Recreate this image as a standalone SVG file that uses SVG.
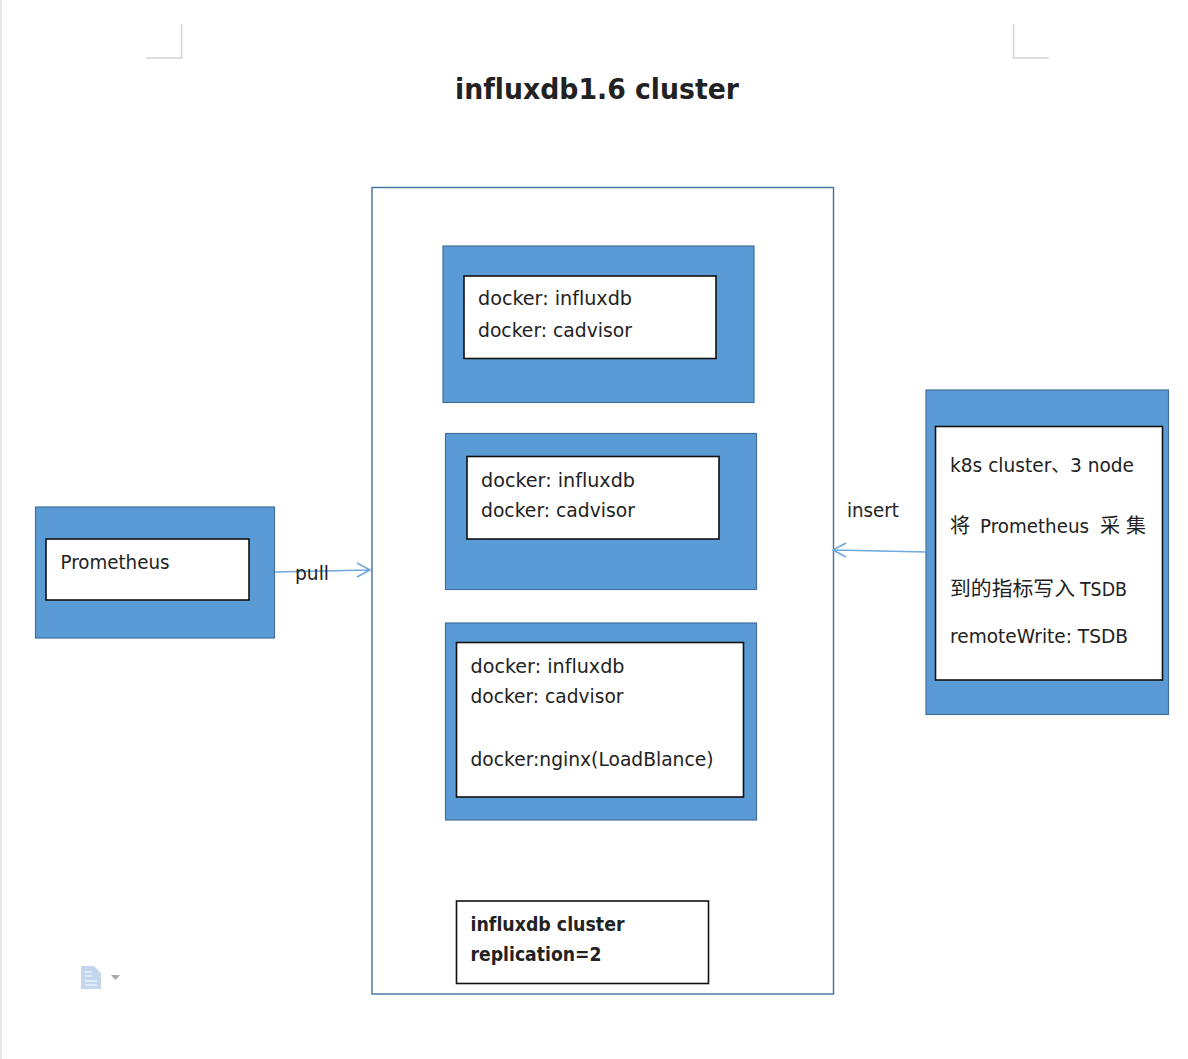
<svg xmlns="http://www.w3.org/2000/svg" width="1188" height="1059" viewBox="0 0 1188 1059">
<style>
text{font-family:"DejaVu Sans","Noto Sans CJK SC",sans-serif;font-size:20px;fill:#222;font-variant-ligatures:none}
.b{font-weight:bold}
.blue{fill:#5b9bd5;stroke:#41719c;stroke-width:1.2}
.white{fill:#fff;stroke:#111;stroke-width:1.6}
.crop{fill:none;stroke:#d4d4d4;stroke-width:1.5}
.conn{fill:none;stroke:#6fa8dc;stroke-width:1.6}
</style>
<rect width="1188" height="1059" fill="#fff"/>
<rect x="0" y="0" width="2" height="1059" fill="#e8e8e8"/>
<g id="page-marks">
<path class="crop" d="M146 58H181.500V24"/>
<path class="crop" d="M1013.500 24V58H1049"/>
<path d="M81 966H94L101 973V989H81Z" fill="#c3d6ee"/>
<path d="M85 972H92M85 976H92M85 981H97M85 985H97" stroke="#fff" stroke-width="1.2"/>
<path d="M111 975H120L115.500 980Z" fill="#a8a8a8"/>
</g>
<g id="title"><text class="b" x="455" y="99" style="font-size:29px" textLength="284" lengthAdjust="spacingAndGlyphs">influxdb1.6 cluster</text></g>
<g id="cluster"><rect x="372" y="187.500" width="461.500" height="806.500" fill="#fff" stroke="#41719c" stroke-width="1.4"/></g>
<g id="node1">
<rect class="blue" x="443" y="246" width="311" height="156.500"/>
<rect class="white" x="464" y="276" width="252" height="82.500"/>
<text x="478" y="305" textLength="154" lengthAdjust="spacingAndGlyphs">docker: influxdb</text>
<text x="478" y="337" textLength="154" lengthAdjust="spacingAndGlyphs">docker: cadvisor</text>
</g>
<g id="node2">
<rect class="blue" x="445.500" y="433.500" width="311" height="156"/>
<rect class="white" x="467" y="456.500" width="252" height="82.500"/>
<text x="481" y="487" textLength="154" lengthAdjust="spacingAndGlyphs">docker: influxdb</text>
<text x="481" y="517" textLength="154" lengthAdjust="spacingAndGlyphs">docker: cadvisor</text>
</g>
<g id="node3">
<rect class="blue" x="445.500" y="623" width="311" height="197"/>
<rect class="white" x="456.500" y="642.500" width="287" height="154.500"/>
<text x="470.500" y="673" textLength="154" lengthAdjust="spacingAndGlyphs">docker: influxdb</text>
<text x="470.500" y="703" textLength="153" lengthAdjust="spacingAndGlyphs">docker: cadvisor</text>
<text x="470.500" y="766" textLength="243" lengthAdjust="spacingAndGlyphs">docker:nginx(LoadBlance)</text>
</g>
<g id="replication">
<rect class="white" x="456.500" y="901" width="252" height="82.500"/>
<text class="b" x="470.500" y="931" textLength="154" lengthAdjust="spacingAndGlyphs">influxdb cluster</text>
<text class="b" x="470.500" y="961" textLength="131" lengthAdjust="spacingAndGlyphs">replication=2</text>
</g>
<g id="prometheus">
<rect class="blue" x="35.500" y="507" width="239" height="131"/>
<rect class="white" x="46" y="539" width="203" height="61"/>
<text x="60.500" y="569" textLength="109" lengthAdjust="spacingAndGlyphs">Prometheus</text>
</g>
<g id="k8s">
<rect class="blue" x="926" y="390" width="242.500" height="324.500"/>
<rect class="white" x="935.500" y="426.500" width="227" height="253.500"/>
<text x="950" y="472" textLength="184" lengthAdjust="spacingAndGlyphs">k8s cluster、3 node</text>
<text x="950" y="533">将</text>
<text x="980" y="533" textLength="109" lengthAdjust="spacingAndGlyphs">Prometheus</text>
<text x="1100" y="533">采</text>
<text x="1126" y="533">集</text>
<text x="950" y="596" textLength="125" lengthAdjust="spacingAndGlyphs">到的指标写入</text>
<text x="1080" y="596" textLength="47" lengthAdjust="spacingAndGlyphs">TSDB</text>
<text x="950" y="643" textLength="178" lengthAdjust="spacingAndGlyphs">remoteWrite: TSDB</text>
</g>
<g id="connectors">
<path class="conn" d="M275 572L370 570M357 563L370 570L357 577"/>
<path class="conn" d="M926 552L834 550M846 543L833 550L846 557"/>
</g>
<g id="labels">
<text x="295" y="580" textLength="34" lengthAdjust="spacingAndGlyphs">pull</text>
<text x="847" y="517" textLength="52" lengthAdjust="spacingAndGlyphs">insert</text>
</g>
</svg>
